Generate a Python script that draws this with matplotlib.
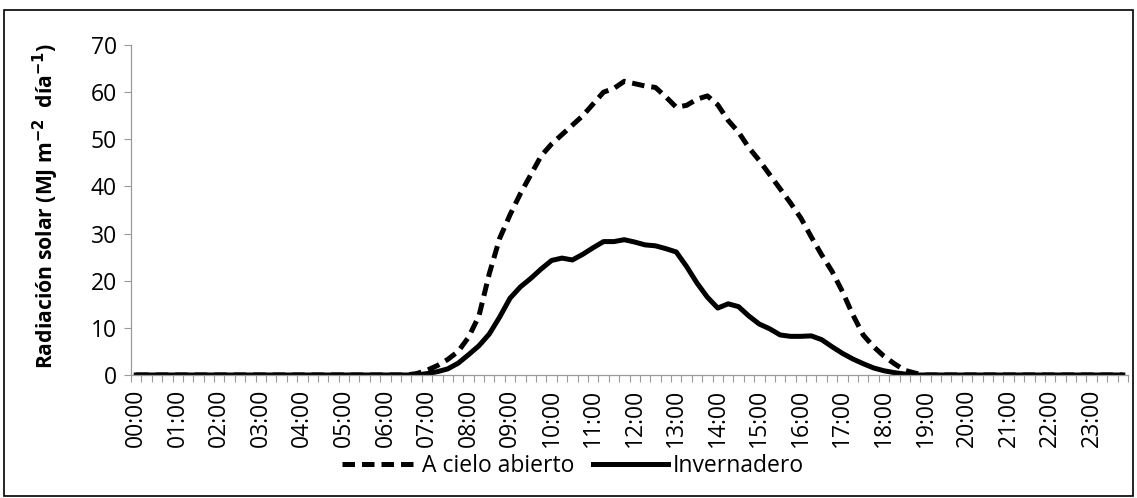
import matplotlib
matplotlib.use("Agg")
import matplotlib.pyplot as plt
import numpy as np
from matplotlib.patches import Rectangle

# 15-minute time steps over a day
times = [f"{h:02d}:{m:02d}" for h in range(24) for m in (0, 15, 30, 45)]

cielo_abierto = [0]*27 + [
    0.3, 1.0, 2.0, 3.3, 5.0, 8.0, 12.5, 21.5, 29.0, 34.0,
    38.5, 42.5, 46.5, 49.0, 51.0, 53.0, 55.0, 57.5, 60.0, 60.8,
    62.3, 61.8, 61.3, 61.0, 59.0, 56.8, 57.2, 58.5, 59.2, 57.3,
    54.0, 51.5, 48.2, 45.5, 42.5, 39.5, 36.5, 33.3, 29.3, 25.5,
    22.0, 17.7, 12.8, 8.5, 6.0, 4.0, 2.4, 1.0, 0.4,
] + [0]*20

invernadero = [0]*28 + [
    0.3, 0.7, 1.3, 2.5, 4.3, 6.2, 8.7, 12.3, 16.3, 18.7,
    20.5, 22.5, 24.3, 24.8, 24.4, 25.6, 27.0, 28.3, 28.3, 28.7,
    28.2, 27.6, 27.4, 26.8, 26.1, 23.0, 19.5, 16.5, 14.2, 15.1,
    14.5, 12.5, 10.8, 9.8, 8.5, 8.2, 8.2, 8.3, 7.5, 6.0,
    4.6, 3.4, 2.4, 1.5, 0.9, 0.5, 0.2,
] + [0]*21

y_ticks = [0, 10, 20, 30, 40, 50, 60, 70]
series_labels = ["A cielo abierto", "Invernadero"]

plt.rcParams['font.family'] = ['Open Sans', 'DejaVu Sans']
FS = 16.5

W, H = 1137, 498
fig = plt.figure(figsize=(W/100, H/100), dpi=100)
ax = fig.add_axes([131/W, 1-375/H, (1128-131)/W, (375-45)/H])

x = np.arange(len(times))
ax.plot(x, cielo_abierto, color='black', lw=3.6, linestyle=(0, (2.5, 1.4)),
        label=series_labels[0], solid_capstyle='butt', dash_capstyle='butt')
ax.plot(x, invernadero, color='black', lw=3.6, label=series_labels[1])

ax.set_xlim(-0.5, len(times)-0.5)
ax.set_ylim(0, 70)
ax.set_yticks(y_ticks)
ax.set_yticklabels([str(v) for v in y_ticks], fontsize=FS)

ax.set_xticks(x[::4])
ax.set_xticklabels(times[::4], rotation=90, fontsize=FS)
ax.set_xticks(np.arange(-0.5, len(times), 1), minor=True)
ax.tick_params(axis='x', which='major', length=0, pad=10)
ax.tick_params(axis='x', which='minor', length=5, color='#9a9a9a', width=0.8)
ax.tick_params(axis='y', length=5, color='#9a9a9a', width=0.8, pad=5)

for s in ['top', 'right']:
    ax.spines[s].set_visible(False)
for s in ['left', 'bottom']:
    ax.spines[s].set_color('#9a9a9a')
    ax.spines[s].set_linewidth(0.9)

fig.text(46/W, 1-206/H, r"Radiación solar (MJ m$^{\mathbf{-2}}$  día$^{\mathbf{-1}}$)",
         rotation=90, ha='center', va='center', fontsize=15.2, fontweight='bold')

fig.legend(loc='center', bbox_to_anchor=(573/W, 1-466/H), ncol=2, frameon=False,
           fontsize=FS, handlelength=3.3, columnspacing=0.8, handletextpad=0.2,
           borderpad=0.1)

fig.patches.append(Rectangle((4/W, 1-496/H), (1133-4)/W, (496-10)/H,
                             transform=fig.transFigure, fill=False,
                             edgecolor='black', lw=1.2))

fig.savefig("out.png", dpi=100)
